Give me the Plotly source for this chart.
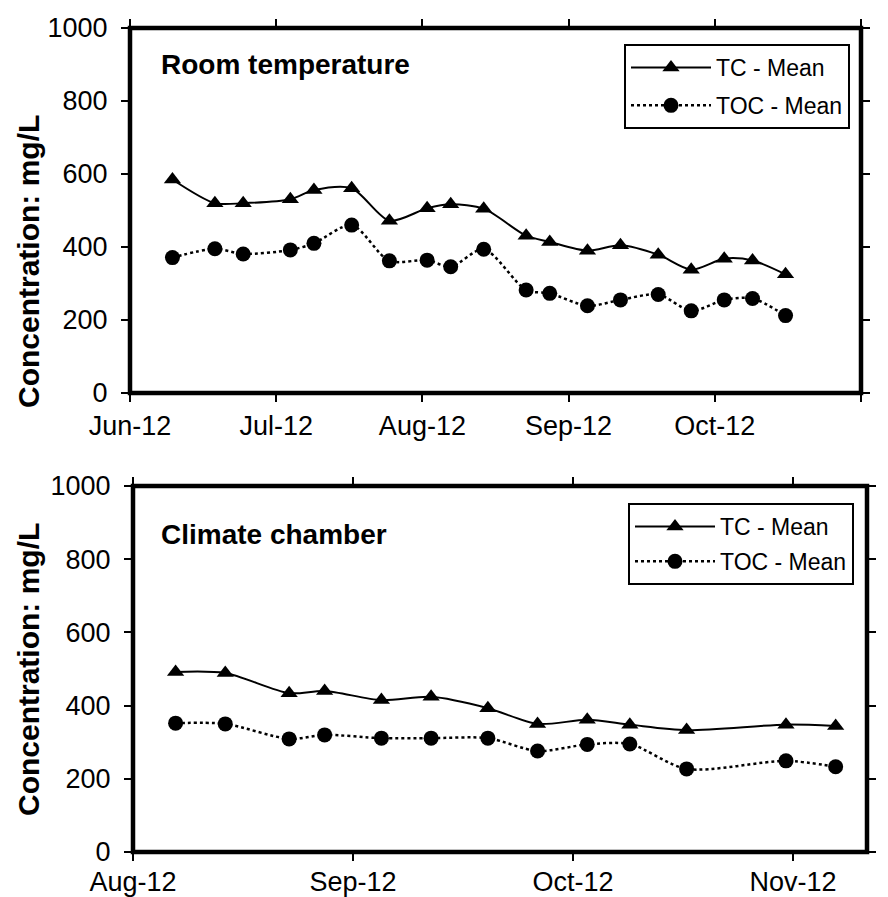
import plotly.graph_objects as go

# ---- Room temperature storage ----
rt_dates = ["2012-06-10", "2012-06-19", "2012-06-25", "2012-07-05", "2012-07-10",
            "2012-07-18", "2012-07-26", "2012-08-03", "2012-08-08", "2012-08-15",
            "2012-08-24", "2012-08-29", "2012-09-06", "2012-09-13", "2012-09-21",
            "2012-09-28", "2012-10-05", "2012-10-11", "2012-10-18"]
rt_tc = [585, 520, 520, 531, 556, 561, 472, 506, 517, 505,
         431, 414, 390, 405, 379, 338, 368, 363, 325]
rt_toc = [371, 395, 381, 392, 410, 460, 362, 364, 346, 394,
          282, 273, 239, 255, 270, 225, 255, 259, 212]

# ---- Climate chamber storage ----
cc_dates = ["2012-08-07", "2012-08-14", "2012-08-23", "2012-08-28", "2012-09-05",
            "2012-09-12", "2012-09-20", "2012-09-27", "2012-10-04", "2012-10-10",
            "2012-10-18", "2012-11-01", "2012-11-08"]
cc_tc = [492, 489, 434, 440, 415, 424, 393, 350, 361, 348, 333, 348, 344]
cc_toc = [352, 350, 309, 320, 311, 311, 311, 276, 294, 295, 227, 249, 233]

# ---- Axis ticks ----
rt_ticks = ["2012-06-01", "2012-07-02", "2012-08-02", "2012-09-02", "2012-10-03", "2012-11-03"]
rt_labels = ["Jun-12", "Jul-12", "Aug-12", "Sep-12", "Oct-12", "Nov-12"]
rt_range = ["2012-06-01", "2012-11-03"]
cc_ticks = ["2012-08-01", "2012-09-01", "2012-10-02", "2012-11-02"]
cc_labels = ["Aug-12", "Sep-12", "Oct-12", "Nov-12"]
cc_range = ["2012-08-01", "2012-11-12 10:00"]
y_ticks = [0, 200, 400, 600, 800, 1000]

W, H = 888, 897
FONT = "Liberation Sans, Arial, sans-serif"


def px_x(v):
    return v / W


def px_y(v):
    return 1 - v / H


def tc_trace(x, y, xa, ya, legend):
    return go.Scatter(
        x=x, y=y, xaxis=xa, yaxis=ya, name="TC - Mean", legend=legend,
        legendgroup=legend + "tc", mode="lines+markers",
        line=dict(color="black", width=2, shape="spline", smoothing=0.8),
        marker=dict(symbol="triangle-up", size=15, color="black"),
    )


def toc_trace(x, y, xa, ya, legend):
    return go.Scatter(
        x=x, y=y, xaxis=xa, yaxis=ya, name="TOC - Mean", legend=legend,
        legendgroup=legend + "toc", mode="lines+markers",
        line=dict(color="black", width=2.5, dash="dot", shape="spline", smoothing=0.8),
        marker=dict(symbol="circle", size=15, color="black"),
    )


fig = go.Figure([
    tc_trace(rt_dates, rt_tc, "x", "y", "legend"),
    toc_trace(rt_dates, rt_toc, "x", "y", "legend"),
    tc_trace(cc_dates, cc_tc, "x2", "y2", "legend2"),
    toc_trace(cc_dates, cc_toc, "x2", "y2", "legend2"),
])

tickfont = dict(family=FONT, size=27, color="black")


def main_x(domain, anchor, rng, ticks, labels, standoff):
    return dict(domain=domain, anchor=anchor, type="date", range=rng,
                tickmode="array", tickvals=ticks, ticktext=labels,
                ticks="outside", ticklen=8, tickwidth=2, tickcolor="black",
                showline=False, mirror="ticks",
                showgrid=False, zeroline=False, tickfont=tickfont,
                ticklabelstandoff=standoff, automargin=False)


def main_y(domain, anchor):
    return dict(domain=domain, anchor=anchor, range=[0, 1000],
                tickmode="array", tickvals=y_ticks,
                ticks="outside", ticklen=8, tickwidth=2, tickcolor="black",
                showline=False, mirror="ticks",
                showgrid=False, zeroline=False, tickfont=tickfont,
                ticklabelstandoff=8, automargin=False)


def inner_x(over, anchor, rng, ticks):
    return dict(overlaying=over, anchor=anchor, type="date", range=rng,
                tickmode="array", tickvals=ticks, ticks="inside", ticklen=7,
                tickwidth=2, tickcolor="black", mirror="ticks", showline=False,
                showticklabels=False, showgrid=False, zeroline=False,
                automargin=False)


def inner_y(over, anchor):
    return dict(overlaying=over, anchor=anchor, range=[0, 1000],
                tickmode="array", tickvals=y_ticks, ticks="inside", ticklen=7,
                tickwidth=2, tickcolor="black", mirror="ticks", showline=False,
                showticklabels=False, showgrid=False, zeroline=False,
                automargin=False)


def frame(xa, ya):
    # heavy border around the plotting area
    return dict(type="rect", xref=xa + " domain", yref=ya + " domain",
                x0=0, x1=1, y0=0, y1=1, line=dict(color="black", width=4.5),
                fillcolor="rgba(0,0,0,0)", layer="above")


top_x = [px_x(130), px_x(861)]
top_y = [px_y(393), px_y(28)]
bot_x = [px_x(133), px_x(867)]
bot_y = [px_y(852), px_y(486)]

legend_style = dict(font=dict(family=FONT, size=23, color="black"),
                    bgcolor="white", bordercolor="black", borderwidth=2,
                    xanchor="right", yanchor="top", traceorder="grouped",
                    itemwidth=80)

fig.update_layout(
    width=W, height=H, autosize=False,
    margin=dict(l=0, r=0, t=0, b=0),
    paper_bgcolor="white", plot_bgcolor="white",
    font=dict(family=FONT, color="black"),
    xaxis=main_x(top_x, "y", rt_range, rt_ticks, rt_labels, 1),
    yaxis=main_y(top_y, "x"),
    xaxis2=main_x(bot_x, "y2", cc_range, cc_ticks, cc_labels, -2),
    yaxis2=main_y(bot_y, "x2"),
    xaxis3=inner_x("x", "y", rt_range, rt_ticks),
    yaxis3=inner_y("y", "x"),
    xaxis4=inner_x("x2", "y2", cc_range, cc_ticks),
    yaxis4=inner_y("y2", "x2"),
    legend=dict(x=px_x(850), y=px_y(44), tracegroupgap=5, **legend_style),
    legend2=dict(x=px_x(854), y=px_y(503), tracegroupgap=2, **legend_style),
    shapes=[frame("x", "y"), frame("x2", "y2")],
    annotations=[
        dict(text="<b>Room temperature</b>", x=px_x(159), y=px_y(64),
             xref="paper", yref="paper", xanchor="left", yanchor="middle",
             showarrow=False, font=dict(family=FONT, size=28, color="black")),
        dict(text="<b>Climate chamber</b>", x=px_x(159), y=px_y(534),
             xref="paper", yref="paper", xanchor="left", yanchor="middle",
             showarrow=False, font=dict(family=FONT, size=28, color="black")),
        dict(text="<b>Concentration: mg/L</b>", x=px_x(28), y=px_y(262),
             xref="paper", yref="paper", xanchor="center", yanchor="middle",
             textangle=-90, showarrow=False,
             font=dict(family=FONT, size=30, color="black")),
        dict(text="<b>Concentration: mg/L</b>", x=px_x(28), y=px_y(670),
             xref="paper", yref="paper", xanchor="center", yanchor="middle",
             textangle=-90, showarrow=False,
             font=dict(family=FONT, size=30, color="black")),
    ],
)

fig.write_html("out.html")
